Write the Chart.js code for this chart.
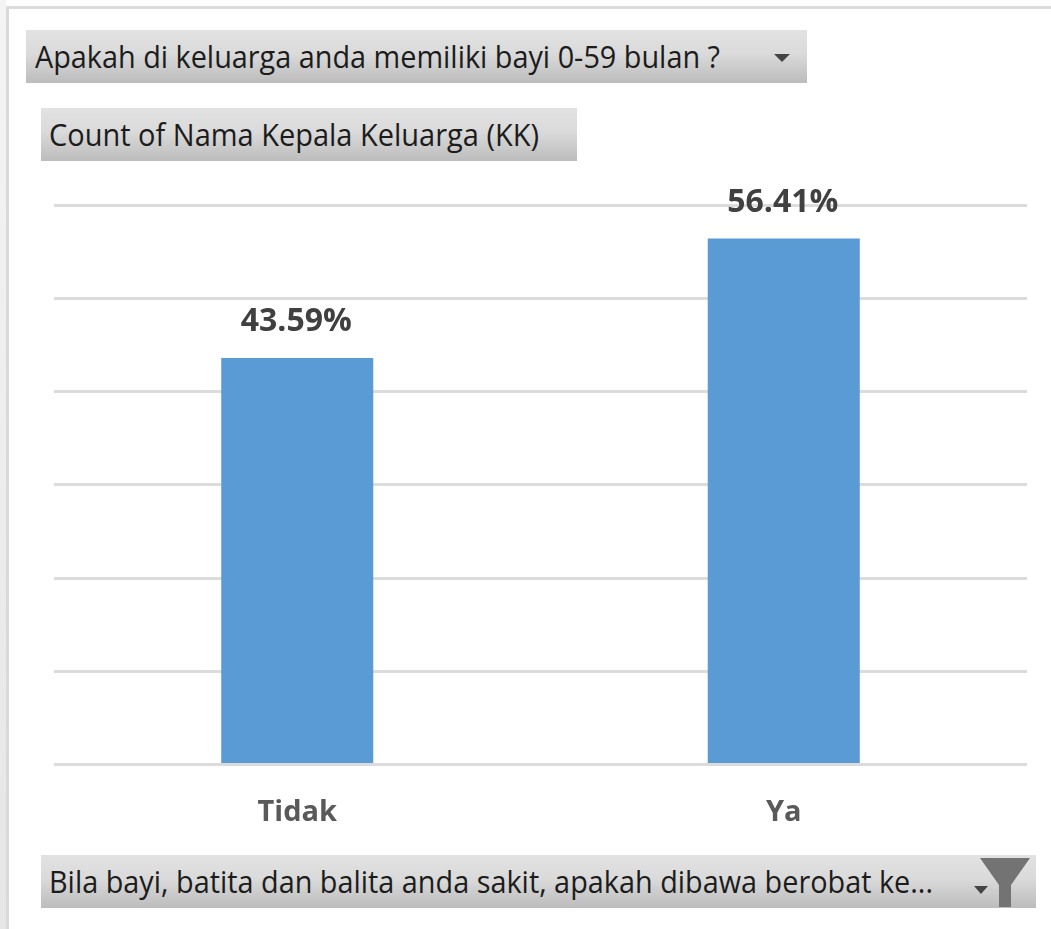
<!DOCTYPE html>
<html><head><meta charset="utf-8">
<script src="https://cdn.jsdelivr.net/npm/chart.js@4"></script>
<style>
html,body{margin:0;padding:0;background:#fff;width:1051px;height:929px;overflow:hidden}
#wrap{position:relative;width:1051px;height:929px;background:#fff}
canvas{position:absolute;left:0;top:0}
.strip{position:absolute;left:0;top:0;width:6px;height:929px;background:linear-gradient(#f4f4f4,#e6e6e6)}
.frameL{position:absolute;left:6px;top:6px;width:3px;height:923px;background:#d9d9d9}
.frameT{position:absolute;left:6px;top:6px;width:1045px;height:3px;background:#dcdcdc}
.btn{position:absolute;background:linear-gradient(#e2e2e2 0%,#dadada 45%,#bcbcbc 100%);white-space:nowrap;overflow:hidden}
.btn span{position:absolute;font:31px "Open Sans",sans-serif;color:#1c1c1c;transform-origin:0 50%;line-height:52px;top:0}
.arrow{position:absolute;width:0;height:0;border-left:8px solid transparent;border-right:8px solid transparent;border-top:8px solid #444}
.small{border-left-width:7px;border-right-width:7px;border-top-width:8px}
svg{position:absolute}
</style></head><body>
<div id="wrap">
<canvas id="c" width="1051" height="929"></canvas>
<div class="strip"></div><div class="frameL"></div><div class="frameT"></div>
<div class="btn" style="left:26px;top:30px;width:781px;height:53px"><span data-w="685" style="left:9px" id="t1"></span><div class="arrow" style="left:748px;top:24px"></div></div>
<div class="btn" style="left:41px;top:108px;width:536px;height:53px"><span data-w="490" style="left:8px" id="t2"></span></div>
<div class="btn" style="left:41px;top:855px;width:995px;height:53px"><span data-w="884" style="left:8px" id="t3"></span><div class="arrow small" style="left:933px;top:31px"></div>
<svg style="left:938px;top:2px" width="52" height="50" viewBox="0 0 52 50"><path d="M1 1H51L32 28V50H20V28Z" fill="#737373"/></svg></div>
</div>
<script>
const categories = ["Tidak", "Ya"];
const percentValues = [43.59, 56.41];
const axisMax = 60;
const axisStep = 10;
const filterLabel = "Apakah di keluarga anda memiliki bayi 0-59 bulan ?";
const valueLabel = "Count of Nama Kepala Keluarga (KK)";
const axisFieldLabel = "Bila bayi, batita dan balita anda sakit, apakah dibawa berobat ke...";

[["t1",filterLabel],["t2",valueLabel],["t3",axisFieldLabel]].forEach(([id,txt])=>{
  const el=document.getElementById(id); el.textContent=txt;
  el.style.transform="scaleX("+(+el.dataset.w/el.getBoundingClientRect().width)+")";
});

const labelPlugin={id:"valueLabels",afterDatasetsDraw(chart){
  const ctx=chart.ctx, meta=chart.getDatasetMeta(0);
  ctx.save();
  ctx.font='bold 32px "Open Sans",sans-serif';
  ctx.fillStyle="#404040";ctx.textAlign="center";ctx.textBaseline="middle";
  meta.data.forEach((b,i)=>ctx.fillText(percentValues[i].toFixed(2)+"%",b.x-1,b.y-36));
  ctx.restore();
}};
new Chart(document.getElementById("c"),{
  type:"bar",
  data:{labels:categories,datasets:[{data:percentValues,backgroundColor:"#5b9bd5",borderWidth:0,categoryPercentage:1,barPercentage:0.3125}]},
  plugins:[labelPlugin],
  options:{
    responsive:false,animation:false,
    layout:{padding:{left:54,right:24,top:205,bottom:0}},
    plugins:{legend:{display:false},tooltip:{enabled:false},title:{display:false}},
    scales:{
      x:{grid:{display:false},border:{display:false},
        ticks:{color:"#595959",padding:23,font:{family:'"Open Sans",sans-serif',size:29,weight:"bold"},maxRotation:0},
        afterFit(s){s.height=164.5;}},
      y:{min:0,max:axisMax,display:true,
        grid:{color:"#dcdcdc",lineWidth:3,drawTicks:false},border:{display:false},
        ticks:{display:false,stepSize:axisStep},afterFit(s){s.width=0;}}
    }
  }
});
</script>
</body></html>
